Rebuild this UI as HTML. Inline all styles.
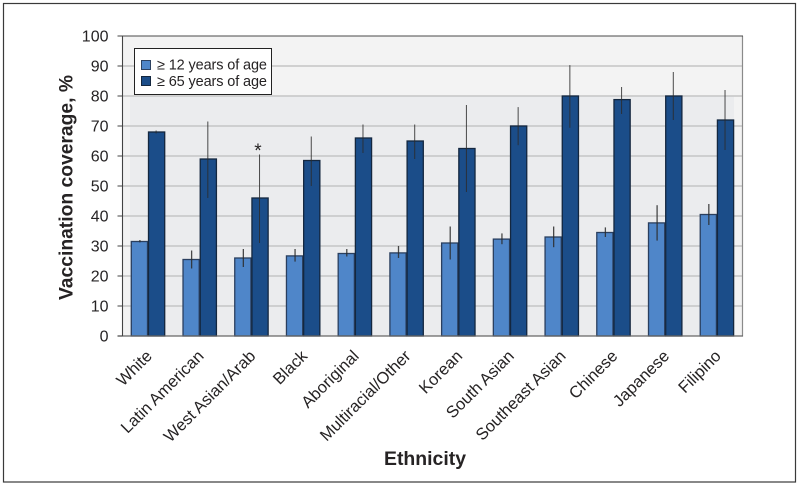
<!DOCTYPE html>
<html lang="en">
<head>
<meta charset="utf-8">
<title>Vaccination coverage by ethnicity</title>
<style>
html,body{margin:0;padding:0;background:#fff;}
svg{display:block;font-family:"Liberation Sans",Arial,sans-serif;}
text{fill:#262324;}
</style>
</head>
<body>
<svg id="chart" width="799" height="486" viewBox="0 0 799 486" xmlns="http://www.w3.org/2000/svg">
  <rect x="3.5" y="3.5" width="792" height="478.5" fill="#fff" stroke="#3a3a3a" stroke-width="1.2"/>
  <rect x="122.5" y="36" width="620" height="300" fill="#f3f3f3"/>
  <rect x="130" y="96" width="604" height="240" fill="#ebecee"/>
  <g id="grid"></g>
  <g id="bars"></g>
  <g id="errors"></g>
  <line x1="742.5" y1="36" x2="742.5" y2="336.5" stroke="#8a8a8a" stroke-width="1.2"/>
  <line x1="117.5" y1="36" x2="743" y2="36" stroke="#4a4a4a" stroke-width="1"/>
  <line x1="117.5" y1="336" x2="743" y2="336" stroke="#666" stroke-width="1.2"/>
  <line x1="122.5" y1="36" x2="122.5" y2="336" stroke="#444" stroke-width="1.1"/>
  <g id="ticks"></g>
  <g id="labels"></g>
  <text x="258" y="157" font-size="19" text-anchor="middle">*</text>
  <text transform="translate(72.5,300) rotate(-90)" font-size="19" font-weight="700" textLength="225" lengthAdjust="spacingAndGlyphs">Vaccination coverage, %</text>
  <text x="425" y="465" font-size="19" font-weight="700" text-anchor="middle" textLength="82" lengthAdjust="spacingAndGlyphs">Ethnicity</text>
  <g>
    <rect x="134.5" y="48.5" width="137" height="46" fill="#fff" stroke="#222" stroke-width="1"/>
    <rect x="141.5" y="60.5" width="9" height="9" fill="#4f86c9" stroke="#2c4160" stroke-width="1"/>
    <text x="157" y="69.5" font-size="14.5" textLength="110" lengthAdjust="spacing">≥ 12 years of age</text>
    <rect x="141.5" y="76.5" width="9" height="9" fill="#1b4d89" stroke="#14273f" stroke-width="1"/>
    <text x="157" y="86" font-size="14.5" textLength="110" lengthAdjust="spacing">≥ 65 years of age</text>
  </g>
</svg>
<script>
const categories = ["White","Latin American","West Asian/Arab","Black","Aboriginal","Multiracial/Other","Korean","South Asian","Southeast Asian","Chinese","Japanese","Filipino"];
const youngValues = [31.5,25.5,26,26.7,27.5,27.7,31,32.3,33,34.5,37.7,40.5];
const youngUpper = [32,28.5,29,29,29,30,36.5,34.2,36.5,36.2,43.6,44];
const youngLower = [31.2,22.5,23,24.8,26.5,26,25.5,30.6,29.6,33,31.8,37];
const oldValues = [68,59,46,58.5,66,65,62.5,70,80,78.8,80,72];
const oldUpper = [68.5,71.5,60.5,66.5,70.5,70.5,77,76.3,90.3,83,88,82];
const oldLower = [67.5,46,31,50,61,59,48,63.6,69.4,74,72,62];
const yTicks = [0,10,20,30,40,50,60,70,80,90,100];

const NS = "http://www.w3.org/2000/svg";
const plot = {left:122.5, right:742.5, top:36, bottom:336, firstGroup:148, step:51.72, barW:17.2};
function yScale(v){ return plot.bottom - (v/100)*(plot.bottom-plot.top); }
function xCenter(i){ return plot.firstGroup + i*plot.step; }
function mk(parent, tag, attrs){
  const el = document.createElementNS(NS, tag);
  for (const k in attrs) el.setAttribute(k, attrs[k]);
  parent.appendChild(el);
  return el;
}
const grid = document.getElementById("grid");
const ticks = document.getElementById("ticks");
const labels = document.getElementById("labels");
const bars = document.getElementById("bars");
const errors = document.getElementById("errors");

yTicks.forEach(function(t){
  const y = yScale(t);
  if (t > 0 && t < 100) {
    const g = mk(grid, "line", {x1:plot.left, x2:plot.right, y1:y, y2:y, stroke:"#c5c5c5", "stroke-width":1.6});
    
    
  }
  const tick = mk(ticks, "line", {x1:117.5, x2:plot.left, y1:y, y2:y, stroke:"#444", "stroke-width":1});
  
  
  const lab = mk(ticks, "text", {x:108.5, y:y+5.6, "font-size":16, "text-anchor":"end"});
  lab.textContent = String(t);
  
  
});

function drawBar(x, v, fill, stroke){
  const y = yScale(v);
  const b = mk(bars, "rect", {x:x+0.5, y:y, width:plot.barW-1, height:plot.bottom-y, fill:fill, stroke:stroke, "stroke-width":1.3});
  
  
}
function drawError(x, hi, lo, w){
  const e = mk(errors, "line", {x1:x, x2:x, y1:yScale(hi), y2:yScale(lo), stroke:"#2b2b2b", "stroke-width":w, "stroke-opacity":0.85});
  
  
}
categories.forEach(function(c, i){
  const cx = xCenter(i);
  drawBar(cx-plot.barW, youngValues[i], "#4f86c9", "#2a3f5f");
  drawBar(cx, oldValues[i], "#1b4d89", "#14273f");
  drawError(cx-plot.barW/2+0.5, youngUpper[i], youngLower[i], 1.3);
  drawError(cx+plot.barW/2-0.5, oldUpper[i], oldLower[i], 1);
  const lx = cx+5, ly = 357;
  const t = mk(labels, "text", {x:lx, y:ly, "font-size":16.5, "text-anchor":"end", transform:"rotate(-45 "+lx+" "+ly+")"});
  t.textContent = c;
  
  
});
</script>
</body>
</html>
